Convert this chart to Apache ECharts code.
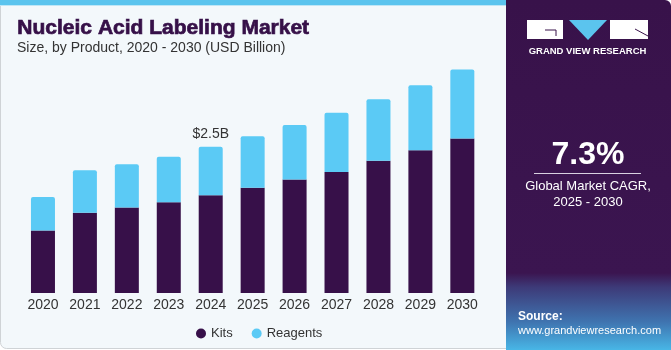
<!DOCTYPE html>
<html><head><meta charset="utf-8">
<script src="https://cdn.jsdelivr.net/npm/echarts@6/dist/echarts.min.js"></script>
<style>html,body{margin:0;padding:0;background:#fff}#c{width:671px;height:350px}</style>
</head><body><div id="c"></div>
<script>
const years = ['2020','2021','2022','2023','2024','2025','2026','2027','2028','2029','2030'];
const kits = [1.07, 1.37, 1.46, 1.55, 1.67, 1.80, 1.94, 2.07, 2.26, 2.44, 2.64];
const reagents = [0.57, 0.73, 0.74, 0.78, 0.83, 0.88, 0.93, 1.01, 1.05, 1.11, 1.18];
const annotIndex = 4;
const annotText = '$2.5B';
const cagr = '7.3%';

const chart = echarts.init(document.getElementById('c'), null, {renderer:'canvas'});
const FONT = '"Liberation Sans", Arial, sans-serif';
chart.setOption({
  animation:false,
  backgroundColor:'#ffffff',
  grid:{left:22,right:187.7,top:59,bottom:57,containLabel:false},
  xAxis:{type:'category',data:years,axisLine:{show:false},axisTick:{show:false},
    axisLabel:{color:'#333',fontSize:14,fontFamily:FONT,margin:5}},
  yAxis:{type:'value',min:0,max:4,show:false,splitLine:{show:false}},
  legend:{left:191,top:322,itemWidth:10,itemHeight:10,itemGap:19,icon:'circle',
    textStyle:{color:'#333',fontSize:13,fontFamily:FONT},data:['Kits','Reagents']},
  series:[
    {name:'Kits',type:'bar',stack:'t',data:kits,barWidth:24,itemStyle:{color:'#371049'}},
    {name:'Reagents',type:'bar',stack:'t',data:reagents.map((v,i)=>i===annotIndex?{value:v,label:{show:true}}:v),barWidth:24,
      itemStyle:{color:'#5bcaf5',borderRadius:[2,2,0,0]},
      label:{show:false,position:'top',distance:6,formatter:annotText,color:'#333',fontSize:14,fontFamily:FONT}}
  ],
  graphic:[
    {type:'rect',z:-10,shape:{x:0.5,y:0.5,width:515,height:348,r:[0,0,0,6]},style:{fill:'#f3f8fb',stroke:'#cfd3d6',lineWidth:1}},
    {type:'rect',z:-9,shape:{x:0,y:0,width:506,height:5},style:{fill:'#5bc4ee'}},
    {type:'rect',z:-9,shape:{x:0,y:5,width:506,height:1},style:{fill:'#bfe6f6'}},
    {type:'text',left:17,top:17,style:{text:'Nucleic Acid Labeling Market',fill:'#361048',stroke:'#361048',lineWidth:0.7,font:'bold 21px '+FONT}},
    {type:'text',left:17,top:41,style:{text:'Size, by Product, 2020 - 2030 (USD Billion)',fill:'#333',font:'14px '+FONT}},
    {type:'rect',z:-5,shape:{x:506,y:0,width:165,height:350,r:[0,6,0,0]},
      style:{fill:new echarts.graphic.LinearGradient(0,0,0,1,[
        {offset:0,color:'#38124a'},{offset:0.78,color:'#3b1550'},{offset:0.82,color:'#3d3a78'},{offset:0.92,color:'#3f74b0'},{offset:1,color:'#48b6e6'}])}},
    {type:'rect',shape:{x:527,y:20,width:36,height:19},style:{fill:'#fff'}},
    {type:'polyline',shape:{points:[[545,30],[556,30],[556,36]]},style:{stroke:'#38124a',lineWidth:1,fill:null}},
    {type:'polygon',shape:{points:[[569,20],[607,20],[588,40]]},style:{fill:'#5bc4ee'}},
    {type:'rect',shape:{x:610,y:20,width:38,height:19},style:{fill:'#fff'}},
    {type:'line',shape:{x1:635,y1:29,x2:648,y2:36},style:{stroke:'#38124a',lineWidth:1}},
    {type:'text',x:587.5,y:51,style:{text:'GRAND VIEW RESEARCH',fill:'#fff',font:'bold 9.5px '+FONT,align:'center',verticalAlign:'middle'}},
    {type:'text',x:588,y:155,style:{text:cagr,fill:'#fff',font:'bold 32px '+FONT,align:'center',verticalAlign:'middle'}},
    {type:'line',shape:{x1:534,y1:173.5,x2:641,y2:173.5},style:{stroke:'#d8d0e0',lineWidth:1}},
    {type:'text',x:588,y:186,style:{text:'Global Market CAGR,',fill:'#fff',font:'13px '+FONT,align:'center',verticalAlign:'middle'}},
    {type:'text',x:588,y:202,style:{text:'2025 - 2030',fill:'#fff',font:'13px '+FONT,align:'center',verticalAlign:'middle'}},
    {type:'text',left:518,top:311,style:{text:'Source:',fill:'#fff',font:'bold 12px '+FONT}},
    {type:'text',left:518,top:325,style:{text:'www.grandviewresearch.com',fill:'#fff',font:'11px '+FONT}}
  ]
});
</script></body></html>
